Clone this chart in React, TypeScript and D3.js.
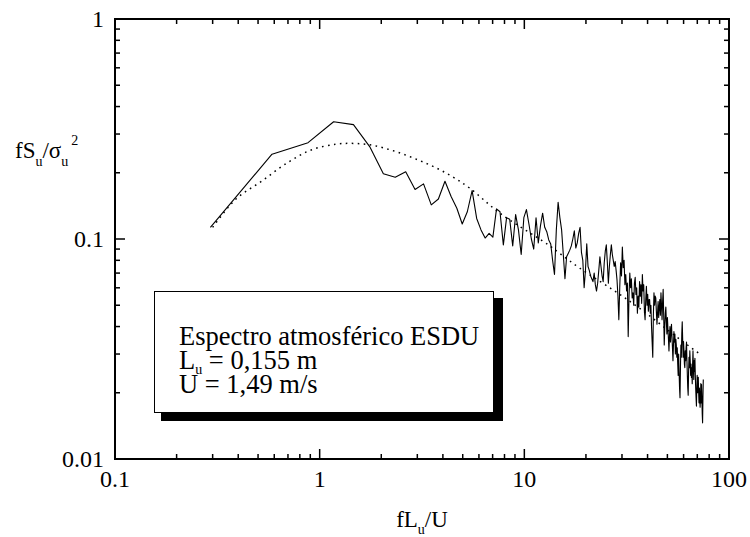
import React from "react";
import * as d3 from "d3";

// Frequency resolution of the measured spectrum (fLu/U per FFT bin)
const FREQ_STEP = 0.2925;

// Measured spectrum fSu/σu² for bins 1..256
const measuredSpectrum: number[] = [
  0.113, 0.243, 0.274, 0.341, 0.331, 0.263, 0.198, 0.191, 0.202, 0.168,
  0.178, 0.143, 0.152, 0.183, 0.156, 0.138, 0.117, 0.133, 0.166, 0.124,
  0.110, 0.101, 0.106, 0.102, 0.137, 0.133, 0.094, 0.125, 0.123, 0.093,
  0.129, 0.110, 0.085, 0.125, 0.136, 0.117, 0.100, 0.090, 0.125, 0.096,
  0.115, 0.131, 0.113, 0.108, 0.099, 0.095, 0.080, 0.069, 0.110, 0.147,
  0.125, 0.110, 0.085, 0.066, 0.083, 0.086, 0.089, 0.093, 0.100, 0.109,
  0.091, 0.096, 0.106, 0.113, 0.087, 0.080, 0.060, 0.072, 0.095, 0.075,
  0.072, 0.068, 0.066, 0.064, 0.070, 0.062, 0.058, 0.063, 0.072, 0.083,
  0.075, 0.068, 0.064, 0.078, 0.088, 0.094, 0.078, 0.063, 0.075, 0.085,
  0.094, 0.085, 0.080, 0.075, 0.079, 0.072, 0.065, 0.055, 0.043, 0.060,
  0.078, 0.068, 0.092, 0.074, 0.080, 0.062, 0.069, 0.058, 0.063, 0.036,
  0.055, 0.070, 0.060, 0.066, 0.054, 0.057, 0.050, 0.063, 0.067, 0.056,
  0.060, 0.046, 0.055, 0.049, 0.064, 0.055, 0.062, 0.051, 0.069, 0.058,
  0.062, 0.047, 0.043, 0.053, 0.061, 0.050, 0.056, 0.047, 0.053, 0.053,
  0.046, 0.050, 0.040, 0.034, 0.029, 0.045, 0.057, 0.050, 0.055, 0.054,
  0.047, 0.041, 0.046, 0.052, 0.044, 0.049, 0.053, 0.045, 0.057, 0.050,
  0.043, 0.052, 0.059, 0.045, 0.033, 0.040, 0.046, 0.049, 0.042, 0.037,
  0.044, 0.039, 0.035, 0.031, 0.036, 0.040, 0.034, 0.038, 0.041, 0.036,
  0.032, 0.028, 0.033, 0.038, 0.034, 0.037, 0.030, 0.035, 0.033, 0.029,
  0.032, 0.027, 0.024, 0.030, 0.025, 0.021, 0.019, 0.026, 0.033, 0.029,
  0.037, 0.042, 0.035, 0.029, 0.034, 0.031, 0.027, 0.026, 0.031, 0.028,
  0.032, 0.034, 0.028, 0.024, 0.021, 0.0195, 0.025, 0.029, 0.026, 0.031,
  0.028, 0.024, 0.027, 0.0235, 0.026, 0.022, 0.027, 0.031, 0.026, 0.023,
  0.028, 0.025, 0.0287, 0.024, 0.021, 0.019, 0.0174, 0.021, 0.024, 0.020,
  0.022, 0.0235, 0.020, 0.018, 0.021, 0.019, 0.0172, 0.019, 0.022, 0.018,
  0.0218, 0.019, 0.016, 0.0146, 0.019, 0.023,
];

// ESDU atmospheric spectrum (dotted curve)
const esduX: number[] = [0.3, 0.39, 0.52, 0.69, 0.91, 1.21, 1.46, 1.76, 2.13, 2.56, 3.09, 3.73, 4.49, 5.42, 7.6, 12.9, 14.9, 18.7, 27.2, 36.6, 55.3, 69.3, 73];
const esduY: number[] = [0.113, 0.152, 0.183, 0.221, 0.254, 0.27, 0.272, 0.268, 0.257, 0.243, 0.227, 0.21, 0.191, 0.17, 0.131, 0.095, 0.086, 0.0736, 0.0586, 0.0484, 0.036, 0.0308, 0.0298];

const xTickValues: number[] = [0.1, 1, 10, 100];
const xTickLabels: string[] = ["0.1", "1", "10", "100"];
const yTickValues: number[] = [0.01, 0.1, 1];
const yTickLabels: string[] = ["0.01", "0.1", "1"];

const legendTitle = "Espectro atmosférico ESDU";
const legendLu = " = 0,155 m";
const legendU = "U = 1,49 m/s";

const FONT = '"Liberation Serif", "DejaVu Serif", "Times New Roman", Times, serif';

export default function App() {
  const W = 750;
  const H = 537;
  const left = 115, right = 729, top = 19, bottom = 459;

  const x = d3.scaleLog().domain([0.1, 100]).range([left, right]);
  const y = d3.scaleLog().domain([0.01, 1]).range([bottom, top]);

  const measured = measuredSpectrum.map((s, i) => ({ f: FREQ_STEP * (i + 1), s }));
  const esdu = esduX.map((f, i) => ({ f, s: esduY[i] }));

  const solidLine = d3.line<{ f: number; s: number }>().x(d => x(d.f)).y(d => y(d.s));
  const dottedLine = d3.line<{ f: number; s: number }>().x(d => x(d.f)).y(d => y(d.s)).curve(d3.curveCatmullRom.alpha(0.5));

  const xMinor: number[] = [];
  for (const dec of [0.1, 1, 10]) for (let k = 2; k <= 9; k++) xMinor.push(dec * k);
  const yMinor: number[] = [];
  for (const dec of [0.01, 0.1]) for (let k = 2; k <= 9; k++) yMinor.push(dec * k);

  const MAJ = 10, MIN = 5;
  const textStyle = { fontFamily: FONT };

  return (
    <svg width={W} height={H} style={{ position: "absolute", left: 0, top: 0, background: "#fff", fontFamily: FONT }}>
      <rect x={0} y={0} width={W} height={H} fill="#fff" />
      {/* data */}
      <path d={dottedLine(esdu) || ""} fill="none" stroke="#000" strokeWidth={1.5} strokeDasharray="1.6 4.4" />
      <path d={solidLine(measured) || ""} fill="none" stroke="#000" strokeWidth={1.1} strokeLinejoin="round" />

      {/* ticks */}
      <g stroke="#000" strokeWidth={1.5}>
        {xMinor.map(v => (
          <g key={"xm" + v}>
            <line x1={x(v)} x2={x(v)} y1={bottom} y2={bottom - MIN} />
            <line x1={x(v)} x2={x(v)} y1={top} y2={top + MIN} />
          </g>
        ))}
        {xTickValues.map(v => (
          <g key={"xM" + v}>
            <line x1={x(v)} x2={x(v)} y1={bottom} y2={bottom - MAJ} />
            <line x1={x(v)} x2={x(v)} y1={top} y2={top + MAJ} />
          </g>
        ))}
        {yMinor.map(v => (
          <g key={"ym" + v}>
            <line x1={left} x2={left + MIN} y1={y(v)} y2={y(v)} />
            <line x1={right} x2={right - MIN} y1={y(v)} y2={y(v)} />
          </g>
        ))}
        {yTickValues.map(v => (
          <g key={"yM" + v}>
            <line x1={left} x2={left + MAJ} y1={y(v)} y2={y(v)} />
            <line x1={right} x2={right - MAJ} y1={y(v)} y2={y(v)} />
          </g>
        ))}
      </g>

      {/* legend box */}
      <rect x={161} y={298} width={342} height={123} fill="#000" />
      <rect x={154.5} y={291.5} width={339} height={121} fill="#fff" stroke="#000" strokeWidth={1} />
      <g fontSize={26.5} fill="#000" style={textStyle}>
        <text x={179} y={345}>{legendTitle}</text>
        <text x={179} y={369}>
          <tspan>L</tspan>
          <tspan fontSize={14} dy={5}>u</tspan>
          <tspan dy={-5}>{legendLu}</tspan>
        </text>
        <text x={179} y={393}>{legendU}</text>
      </g>

      {/* frame */}
      <rect x={left} y={top} width={right - left} height={bottom - top} fill="none" stroke="#000" strokeWidth={2} />

      {/* tick labels */}
      <g fontSize={24} fill="#000" style={textStyle}>
        {xTickValues.map((v, i) => (
          <text key={"xl" + v} x={x(v)} y={bottom + 28} textAnchor="middle">{xTickLabels[i]}</text>
        ))}
        {yTickValues.map((v, i) => (
          <text key={"yl" + v} x={left - 11} y={y(v) + 8} textAnchor="end">{yTickLabels[i]}</text>
        ))}
      </g>

      {/* axis titles */}
      <text x={(left + right) / 2} y={527} textAnchor="middle" fontSize={23} fill="#000" style={textStyle}>
        <tspan>fL</tspan>
        <tspan fontSize={14} dy={7}>u</tspan>
        <tspan dy={-7}>/U</tspan>
      </text>
      <text x={15} y={158} fontSize={23} fill="#000" style={textStyle}>
        <tspan>fS</tspan>
        <tspan fontSize={14} dy={8}>u</tspan>
        <tspan dy={-8}>/σ</tspan>
        <tspan fontSize={14} dy={8}>u</tspan>
        <tspan fontSize={14} dx={3} dy={-21}>2</tspan>
      </text>
    </svg>
  );
}
